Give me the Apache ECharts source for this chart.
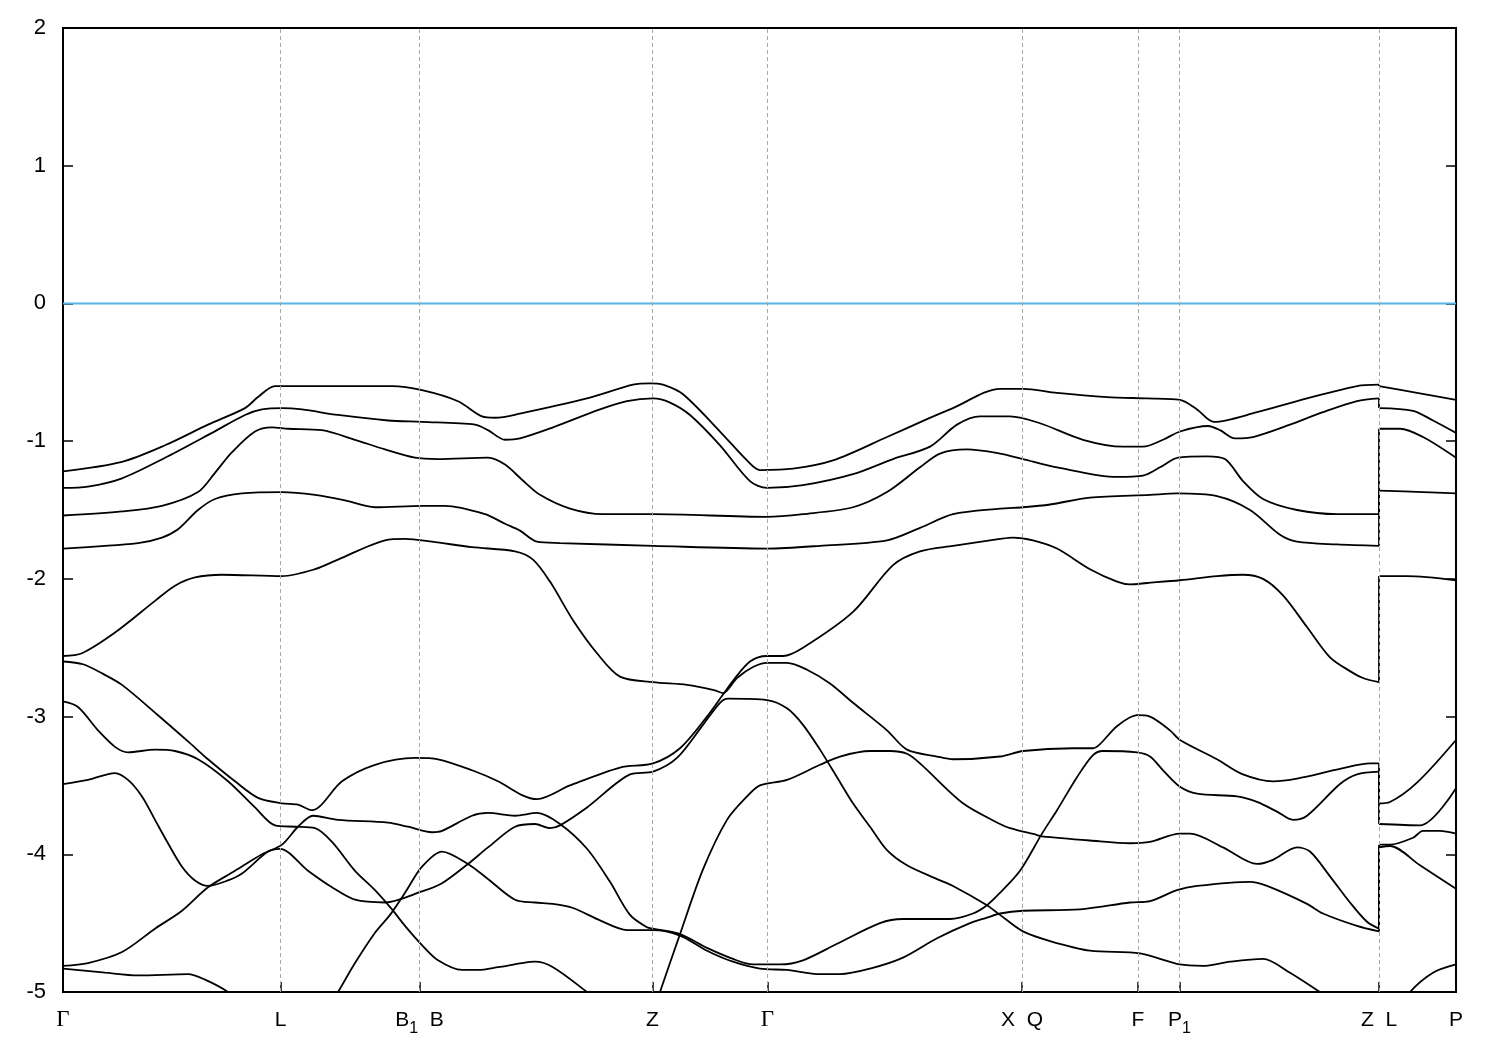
<!DOCTYPE html>
<html><head><meta charset="utf-8">
<script src="https://cdn.jsdelivr.net/npm/echarts@6/dist/echarts.min.js"></script>
<style>html,body{margin:0;padding:0;background:#fff}#c{width:1500px;height:1050px}</style>
</head><body><div id="c"></div>
<script>
// k-path coordinate (arbitrary path-length units) of the high-symmetry points
const kTicks = [0, 217.5, 356.5, 589.5, 704.5, 959, 1075, 1116.5, 1316, 1393];
const kLabels = ['Γ', 'L', 'B_1  B', 'Z', 'Γ', 'X  Q', 'F', 'P_1', 'Z  L', 'P'];
const eMin = -5, eMax = 2, eStep = 1;
const fermiLevel = 0;

// Bands: first part Γ→Z, second part L→P (energies in eV)
const bandA = [[0,-1.22],[59,-1.15],[102,-1.03],[145,-0.88],[182,-0.76],[195,-0.68],[212,-0.60],[259,-0.60],[329,-0.60],[359,-0.63],[395,-0.71],[419,-0.82],[432,-0.83],[457,-0.80],[524,-0.69],[570,-0.59],[587,-0.58],[600,-0.59],[620,-0.66],[657,-0.93],[684,-1.14],[697,-1.21],[730,-1.20],[770,-1.14],[824,-0.97],[864,-0.84],[890,-0.76],[937,-0.62],[960,-0.62],[994,-0.65],[1044,-0.68],[1084,-0.69],[1117,-0.70],[1134,-0.77],[1151,-0.86],[1194,-0.79],[1244,-0.69],[1294,-0.60],[1316,-0.59]];
const bandA_LP = [[1316,-0.60],[1354,-0.65],[1393,-0.70]];

const bandB = [[0,-1.34],[25,-1.33],[59,-1.27],[105,-1.11],[149,-0.94],[182,-0.81],[199,-0.77],[219,-0.76],[239,-0.77],[275,-0.81],[325,-0.85],[359,-0.86],[412,-0.88],[425,-0.92],[442,-0.99],[457,-0.98],[490,-0.90],[537,-0.77],[564,-0.71],[590,-0.69],[607,-0.72],[627,-0.81],[657,-1.03],[687,-1.29],[704,-1.34],[740,-1.32],[790,-1.24],[830,-1.13],[867,-1.04],[894,-0.88],[917,-0.82],[947,-0.82],[977,-0.87],[1020,-0.99],[1060,-1.04],[1080,-1.04],[1100,-0.99],[1117,-0.93],[1145,-0.89],[1157,-0.92],[1172,-0.98],[1190,-0.97],[1227,-0.88],[1260,-0.79],[1294,-0.71],[1316,-0.69]];
const bandB_LP = [[1316,-0.76],[1350,-0.78],[1370,-0.85],[1393,-0.94]];

const bandC = [[0,-1.54],[59,-1.51],[99,-1.47],[135,-1.37],[152,-1.23],[169,-1.08],[192,-0.93],[209,-0.90],[225,-0.91],[259,-0.92],[292,-0.99],[322,-1.06],[352,-1.12],[375,-1.13],[425,-1.12],[442,-1.17],[459,-1.28],[477,-1.39],[507,-1.49],[540,-1.53],[590,-1.53],[704,-1.55],[740,-1.53],[790,-1.48],[824,-1.37],[857,-1.19],[877,-1.09],[904,-1.06],[937,-1.09],[960,-1.13],[994,-1.19],[1054,-1.26],[1080,-1.25],[1097,-1.19],[1115,-1.12],[1144,-1.11],[1162,-1.13],[1180,-1.29],[1200,-1.42],[1234,-1.50],[1274,-1.53],[1316,-1.53]];
const bandC_LP = [[1316,-0.91],[1337,-0.91],[1360,-0.97],[1393,-1.12]];

const bandD = [[0,-1.78],[75,-1.74],[99,-1.70],[115,-1.64],[135,-1.50],[152,-1.42],[179,-1.38],[219,-1.37],[252,-1.39],[282,-1.43],[312,-1.48],[359,-1.47],[382,-1.47],[422,-1.53],[442,-1.60],[457,-1.65],[474,-1.73],[497,-1.74],[590,-1.76],[704,-1.78],[757,-1.76],[824,-1.72],[857,-1.63],[890,-1.53],[937,-1.49],[960,-1.48],[987,-1.46],[1027,-1.41],[1087,-1.39],[1114,-1.38],[1154,-1.40],[1187,-1.50],[1217,-1.68],[1234,-1.73],[1274,-1.75],[1316,-1.76]];
const bandD_LP = [[1316,-1.36],[1360,-1.37],[1393,-1.38]];

const bandE = [[0,-2.56],[19,-2.54],[52,-2.39],[92,-2.16],[112,-2.05],[132,-1.99],[159,-1.97],[219,-1.98],[252,-1.93],[275,-1.86],[322,-1.72],[342,-1.71],[369,-1.73],[409,-1.77],[452,-1.80],[470,-1.86],[487,-2.02],[510,-2.30],[534,-2.54],[557,-2.71],[590,-2.75],[624,-2.77],[652,-2.81],[660,-2.83],[674,-2.72],[690,-2.64],[704,-2.61],[724,-2.61],[744,-2.66],[767,-2.76],[790,-2.90],[824,-3.10],[844,-3.24],[874,-3.29],[890,-3.31],[937,-3.29],[960,-3.25],[1010,-3.23],[1030,-3.23],[1037,-3.20],[1054,-3.07],[1074,-2.99],[1087,-3.00],[1107,-3.10],[1117,-3.17],[1154,-3.31],[1180,-3.42],[1210,-3.47],[1234,-3.45],[1277,-3.38],[1307,-3.34],[1316,-3.34]];
const bandE_LP = [[1316,-3.63],[1327,-3.62],[1354,-3.48],[1393,-3.17]];

const bandF = [[0,-2.60],[20,-2.62],[40,-2.69],[59,-2.77],[95,-2.99],[125,-3.18],[145,-3.31],[172,-3.47],[195,-3.59],[219,-3.63],[235,-3.64],[249,-3.68],[279,-3.47],[312,-3.35],[352,-3.30],[375,-3.31],[409,-3.39],[435,-3.47],[459,-3.57],[474,-3.60],[507,-3.50],[557,-3.37],[590,-3.34],[617,-3.23],[644,-3.00],[660,-2.84],[670,-2.74],[687,-2.60],[704,-2.56],[720,-2.56],[740,-2.50],[790,-2.24],[830,-1.90],[857,-1.80],[890,-1.76],[937,-1.71],[950,-1.70],[970,-1.72],[994,-1.78],[1027,-1.93],[1054,-2.02],[1067,-2.04],[1084,-2.03],[1117,-2.01],[1154,-1.98],[1180,-1.97],[1200,-2.00],[1220,-2.12],[1244,-2.35],[1267,-2.57],[1287,-2.67],[1300,-2.72],[1316,-2.75]];
const bandF_LP = [[1316,-1.98],[1344,-1.98],[1393,-2.01]];

const bandG = [[0,-2.89],[15,-2.93],[35,-3.10],[52,-3.22],[65,-3.26],[92,-3.24],[112,-3.25],[135,-3.31],[165,-3.47],[192,-3.66],[212,-3.79],[232,-3.80],[252,-3.81],[269,-3.91],[292,-4.12],[312,-4.26],[329,-4.40],[342,-4.52],[359,-4.66],[375,-4.77],[399,-4.84],[415,-4.84],[435,-4.82],[459,-4.79],[472,-4.78],[490,-4.82],[524,-5.0],[550,-5.15],[575,-5.2],[590,-5.15],[597,-5.0],[617,-4.58],[640,-4.11],[664,-3.75],[684,-3.58],[697,-3.50],[724,-3.46],[757,-3.35],[777,-3.29],[807,-3.25],[827,-3.25],[844,-3.27],[857,-3.34],[900,-3.63],[937,-3.78],[947,-3.81],[974,-3.86],[979,-3.87],[1027,-3.90],[1067,-3.92],[1087,-3.91],[1117,-3.85],[1127,-3.85],[1160,-3.95],[1194,-4.07],[1210,-4.04],[1234,-3.95],[1247,-3.98],[1267,-4.16],[1287,-4.35],[1304,-4.49],[1316,-4.54]];
const bandG_LP = [[1316,-3.93],[1327,-3.93],[1350,-3.88],[1360,-3.83],[1377,-3.83],[1393,-3.85]];

const bandH = [[0,-4.81],[25,-4.79],[59,-4.71],[92,-4.54],[119,-4.41],[145,-4.24],[172,-4.12],[199,-4.00],[219,-3.93],[235,-3.80],[250,-3.72],[275,-3.75],[325,-3.77],[345,-3.80],[369,-3.84],[379,-3.83],[409,-3.72],[425,-3.70],[452,-3.72],[474,-3.70],[497,-3.78],[524,-3.96],[547,-4.20],[567,-4.44],[584,-4.53],[590,-4.54],[617,-4.58],[644,-4.68],[670,-4.76],[690,-4.80],[717,-4.80],[740,-4.77],[774,-4.65],[817,-4.50],[840,-4.47],[887,-4.47],[910,-4.43],[924,-4.37],[937,-4.28],[957,-4.12],[979,-3.85],[994,-3.68],[1014,-3.44],[1030,-3.28],[1040,-3.25],[1074,-3.26],[1087,-3.29],[1100,-3.39],[1117,-3.51],[1134,-3.56],[1174,-3.58],[1194,-3.62],[1214,-3.69],[1230,-3.75],[1244,-3.72],[1277,-3.49],[1294,-3.42],[1316,-3.40]];
const bandH_LP = [[1316,-3.78],[1357,-3.79],[1393,-3.52]];

const bandK = [[0,-3.49],[25,-3.46],[52,-3.41],[65,-3.46],[79,-3.58],[92,-3.75],[105,-3.92],[119,-4.09],[132,-4.19],[145,-4.23],[165,-4.19],[179,-4.14],[205,-3.98],[217,-3.96],[245,-4.12],[269,-4.24],[292,-4.33],[322,-4.35],[359,-4.27],[379,-4.21],[405,-4.07],[425,-3.95],[452,-3.80],[472,-3.78],[487,-3.81],[497,-3.79],[524,-3.66],[567,-3.42],[590,-3.40],[614,-3.30],[640,-3.06],[657,-2.90],[665,-2.87],[704,-2.88],[724,-2.94],[740,-3.06],[757,-3.24],[774,-3.44],[790,-3.63],[807,-3.80],[824,-3.97],[844,-4.08],[874,-4.18],[890,-4.23],[924,-4.37],[937,-4.44],[960,-4.56],[987,-4.63],[1027,-4.70],[1077,-4.72],[1117,-4.80],[1140,-4.81],[1167,-4.78],[1200,-4.76],[1227,-4.86],[1257,-5.0],[1290,-5.15],[1316,-5.25]];
const bandK_LP = [[1316,-5.3],[1347,-5.0],[1370,-4.86],[1393,-4.80]];

const bandJ = [[0,-4.83],[42,-4.86],[75,-4.88],[125,-4.87],[142,-4.91],[165,-5.0],[200,-5.2],[240,-5.25],[262,-5.15],[275,-5.0],[292,-4.79],[312,-4.57],[327,-4.44],[342,-4.28],[359,-4.09],[379,-3.98],[405,-4.07],[425,-4.18],[452,-4.33],[472,-4.35],[490,-4.36],[510,-4.39],[537,-4.48],[564,-4.55],[590,-4.55],[617,-4.59],[644,-4.70],[670,-4.78],[697,-4.83],[724,-4.84],[757,-4.87],[777,-4.87],[807,-4.83],[840,-4.75],[874,-4.61],[907,-4.50],[924,-4.46],[937,-4.43],[960,-4.41],[1017,-4.40],[1067,-4.35],[1087,-4.34],[1114,-4.26],[1134,-4.23],[1187,-4.20],[1204,-4.23],[1244,-4.36],[1260,-4.43],[1294,-4.52],[1316,-4.56]];
const bandJ_LP = [[1316,-3.95],[1327,-3.94],[1357,-4.08],[1393,-4.25]];

const bands = [
  [bandA, bandA_LP], [bandB, bandB_LP], [bandC, bandC_LP], [bandD, bandD_LP],
  [bandE, bandE_LP], [bandF, bandF_LP], [bandG, bandG_LP], [bandH, bandH_LP],
  [bandK, bandK_LP], [bandJ, bandJ_LP]
];

const FONT = 'Liberation Sans, Arial, sans-serif';
const bandStyle = { color: '#000', width: 1.8 };
const series = [];

// Fermi level line + vertical dashed lines at the high-symmetry points
series.push({
  type: 'line', data: [[kTicks[0], fermiLevel], [kTicks[kTicks.length - 1], fermiLevel]],
  showSymbol: false, silent: true, z: 1,
  lineStyle: { color: '#56b4e9', width: 2 },
  markLine: {
    silent: true, symbol: 'none', label: { show: false }, animation: false,
    lineStyle: { color: '#a8a8a8', width: 1, type: [4, 3] },
    data: kTicks.slice(1, -1).map(v => ({ xAxis: v }))
  }
});

bands.forEach(([p1, p2]) => {
  series.push({ type: 'line', data: p1, showSymbol: false, smooth: 0.3, lineStyle: bandStyle, z: 3, silent: true });
  series.push({ type: 'line', data: p2, showSymbol: false, smooth: 0.3, lineStyle: bandStyle, z: 3, silent: true });
  // discontinuity at Z|L
  series.push({ type: 'line', data: [p1[p1.length - 1], p2[0]], showSymbol: false, lineStyle: bandStyle, z: 3, silent: true });
});

function labelFor(v) {
  let best = 0;
  kTicks.forEach((t, i) => { if (Math.abs(t - v) < Math.abs(kTicks[best] - v)) best = i; });
  return kLabels[best]
    .replace(/_(\d)/g, '{sub|$1}')
    .replace(/Γ/g, '{g|Γ}');
}

const chart = echarts.init(document.getElementById('c'), null, { renderer: 'canvas' });
chart.setOption({
  animation: false,
  backgroundColor: '#fff',
  grid: { left: 63, right: 44, top: 28, bottom: 58, show: true, borderColor: '#000', borderWidth: 2 },
  xAxis: {
    type: 'value', min: kTicks[0], max: kTicks[kTicks.length - 1],
    axisLine: { show: true, onZero: false, lineStyle: { color: '#000', width: 2 } },
    axisTick: { show: true, inside: true, length: 10, customValues: kTicks, lineStyle: { color: '#000', width: 1.5 } },
    splitLine: { show: false },
    axisLabel: {
      customValues: kTicks, margin: 11, color: '#000', fontSize: 21, fontFamily: FONT, lineHeight: 34,
      hideOverlap: false,
      formatter: labelFor,
      rich: {
        sub: { fontSize: 16, lineHeight: 15, verticalAlign: 'bottom', color: '#000', fontFamily: FONT },
        g: { fontSize: 23, lineHeight: 34, color: '#000', fontFamily: 'Liberation Serif, DejaVu Serif, serif' }
      }
    }
  },
  yAxis: [{
    type: 'value', min: eMin, max: eMax, interval: eStep,
    axisLine: { show: true, onZero: false, lineStyle: { color: '#000', width: 2 } },
    axisTick: { show: true, inside: true, length: 10, lineStyle: { color: '#000', width: 1.5 } },
    splitLine: { show: false },
    axisLabel: { margin: 17, color: '#000', fontSize: 22, fontFamily: FONT }
  }, {
    type: 'value', min: eMin, max: eMax, interval: eStep, position: 'right',
    axisLine: { show: true, onZero: false, lineStyle: { color: '#000', width: 2 } },
    axisTick: { show: true, inside: true, length: 10, lineStyle: { color: '#000', width: 1.5 } },
    splitLine: { show: false },
    axisLabel: { show: false }
  }],
  series: series
});
</script>
</body></html>
